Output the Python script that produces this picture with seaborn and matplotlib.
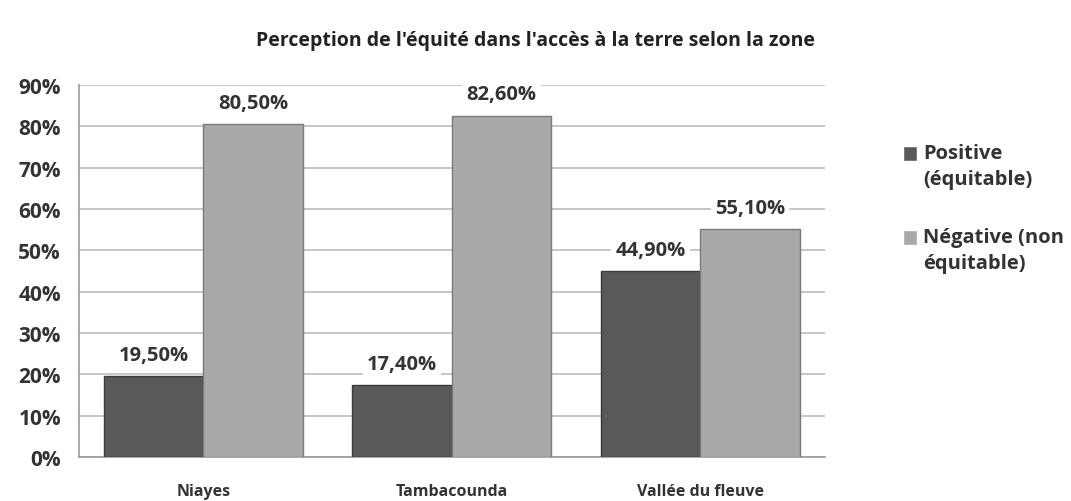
import matplotlib
matplotlib.use("Agg")
import matplotlib.pyplot as plt
import seaborn as sns
import pandas as pd
from matplotlib.ticker import FixedLocator, PercentFormatter
from matplotlib.legend_handler import HandlerPatch
from matplotlib.patches import Rectangle

zones = ["Niayes", "Tambacounda", "Vallée du fleuve"]
positive = [19.5, 17.4, 44.9]
negative = [80.5, 82.6, 55.1]
series = ["Positive\n(équitable)", "Négative (non\néquitable)"]
colors = ["#595959", "#a9a9a9"]
edges = ["#3a3a3a", "#7a7a7a"]

df = pd.DataFrame({
    "zone": zones * 2,
    "serie": [series[0]] * 3 + [series[1]] * 3,
    "valeur": positive + negative,
})

sns.set_style("white")
plt.rcParams["font.family"] = ["Open Sans", "DejaVu Sans"]
text_col = "#333333"

fig = plt.figure(figsize=(10.71, 5.02), dpi=100)
ax = fig.add_axes([0.0738, 0.0876, 0.6962, 0.7411])

sns.barplot(data=df, x="zone", y="valeur", hue="serie", hue_order=series,
            palette=colors, width=0.8, ax=ax, zorder=3, legend=True)

for cont, ec in zip(ax.containers, edges):
    for bar in cont:
        bar.set_edgecolor(ec)
        bar.set_linewidth(1.0)
    labels = [f"{v:.2f}%".replace(".", ",") for v in cont.datavalues]
    txts = ax.bar_label(cont, labels=labels, padding=8, fontsize=14.5,
                        fontweight="bold", color=text_col)
    for t in txts:
        t.set_bbox(dict(facecolor="white", edgecolor="none", pad=3))
        t.set_zorder(4)

ax.set_ylim(0, 90)
ax.set_xlim(-0.5, 2.5)
ax.set_yticks(range(0, 91, 10))
ax.yaxis.set_major_formatter(PercentFormatter(decimals=0))
ax.yaxis.grid(True, color="#bdbdbd", linewidth=1.2, zorder=0)
ax.set_axisbelow(True)

for side in ["top", "right"]:
    ax.spines[side].set_visible(False)
for side in ["left", "bottom"]:
    ax.spines[side].set_color("#9a9a9a")
    ax.spines[side].set_linewidth(1.2)

ax.tick_params(axis="y", which="major", length=9, width=1.2, color="#bdbdbd",
               labelsize=15, labelcolor=text_col, pad=4)
ax.tick_params(axis="x", which="major", length=0, labelsize=11.5,
               labelcolor=text_col, pad=19)
ax.xaxis.set_minor_locator(FixedLocator([-0.5, 0.5, 1.5, 2.5]))
ax.tick_params(axis="x", which="minor", length=7, width=1.2, color="#9a9a9a")
for lab in ax.get_xticklabels() + ax.get_yticklabels():
    lab.set_fontweight("bold")

ax.set_xlabel("")
ax.set_ylabel("")


def top_square(legend, orig_handle, xdescent, ydescent, width, height, fontsize):
    s = 0.72 * fontsize
    return Rectangle((-xdescent, -ydescent + height / 2 + 0.3 * fontsize), s, s)


handles, labs = ax.get_legend_handles_labels()
leg = fig.legend(handles, labs, loc="upper left", bbox_to_anchor=(0.826, 0.749),
                 frameon=False, fontsize=14.5, handlelength=0.72, handleheight=0.7,
                 handletextpad=0.3, labelspacing=1.9,
                 handler_map={h: HandlerPatch(patch_func=top_square) for h in handles})
ax.get_legend().remove()
for t in leg.get_texts():
    t.set_fontweight("bold")
    t.set_color(text_col)
    t.set_linespacing(1.4)

fig.text(0.5, 0.918, "Perception de l'équité dans l'accès à la terre selon la zone",
         ha="center", va="center", fontsize=14, fontweight="bold", color="#222222")

fig.savefig("out.png", dpi=100)
